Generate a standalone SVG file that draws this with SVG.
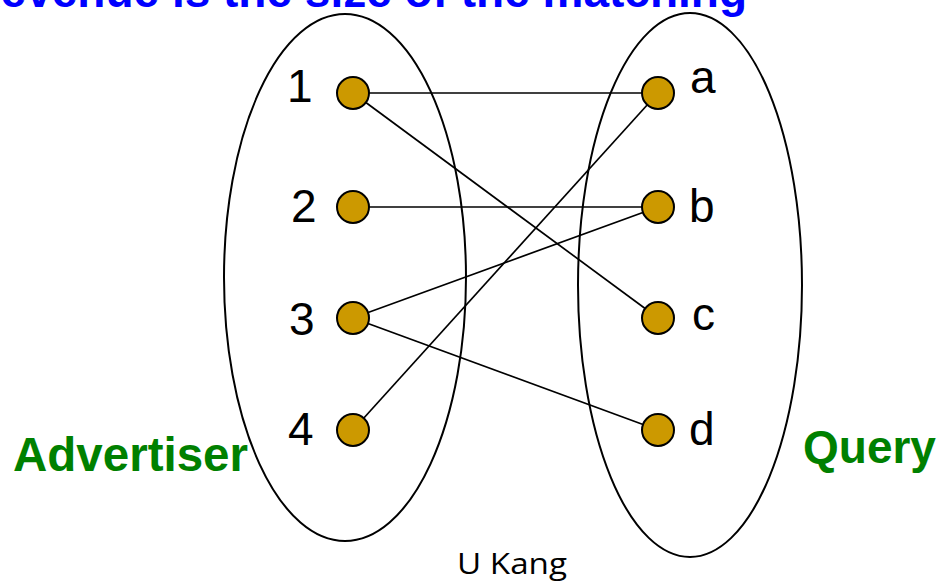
<svg xmlns="http://www.w3.org/2000/svg" width="941" height="587" viewBox="0 0 941 587">
<style>
.ell{fill:none;stroke:#000;stroke-width:2}
.edge{stroke:#000;stroke-width:1.7;fill:none}
.dot{fill:#CC9900;stroke:#000;stroke-width:2}
.lbl{font-family:"Liberation Sans",Arial,sans-serif;font-size:46px;fill:#000}
.side{font-family:"Liberation Sans",Arial,sans-serif;font-size:46px;font-weight:bold;fill:#008000}
.title{font-family:"Liberation Sans",Arial,sans-serif;font-size:46px;font-weight:bold;fill:#0000FF}
.foot{font-family:"Open Sans","Noto Sans",sans-serif;font-size:30px;fill:#000}
</style>
<rect width="941" height="587" fill="#fff"/>
<text class="title" x="747" y="7" text-anchor="end">Revenue is the size of the matching</text>
<g id="advertiser-set"><ellipse class="ell" cx="345" cy="277.5" rx="121" ry="263.5"/></g>
<g id="query-set"><ellipse class="ell" cx="690" cy="285" rx="112" ry="272"/></g>
<g id="connectors">
<line class="edge" x1="353" y1="93" x2="658" y2="93"/>
<line class="edge" x1="353" y1="93" x2="658" y2="318"/>
<line class="edge" x1="353" y1="207" x2="658" y2="207"/>
<line class="edge" x1="353" y1="318" x2="658" y2="207"/>
<line class="edge" x1="353" y1="318" x2="658" y2="430"/>
<line class="edge" x1="353" y1="430" x2="658" y2="93"/>
</g>
<g id="n1"><circle class="dot" cx="353" cy="93" r="16"/><text class="lbl" x="287" y="102">1</text></g>
<g id="n2"><circle class="dot" cx="353" cy="207" r="16"/><text class="lbl" x="291" y="222">2</text></g>
<g id="n3"><circle class="dot" cx="353" cy="318" r="16"/><text class="lbl" x="289" y="335">3</text></g>
<g id="n4"><circle class="dot" cx="353" cy="430" r="16"/><text class="lbl" x="288" y="445">4</text></g>
<g id="na"><circle class="dot" cx="658" cy="93" r="16"/><text class="lbl" x="690" y="93">a</text></g>
<g id="nb"><circle class="dot" cx="658" cy="207" r="16"/><text class="lbl" x="689" y="222">b</text></g>
<g id="nc"><circle class="dot" cx="658" cy="318" r="16"/><text class="lbl" x="692" y="330">c</text></g>
<g id="nd"><circle class="dot" cx="658" cy="430" r="16"/><text class="lbl" x="689" y="445">d</text></g>
<text class="side" x="13" y="471" style="font-size:47.5px">Advertiser</text>
<text class="side" x="803" y="463">Query</text>
<text class="foot" x="457" y="574" textLength="110" lengthAdjust="spacingAndGlyphs">U Kang</text>
</svg>
